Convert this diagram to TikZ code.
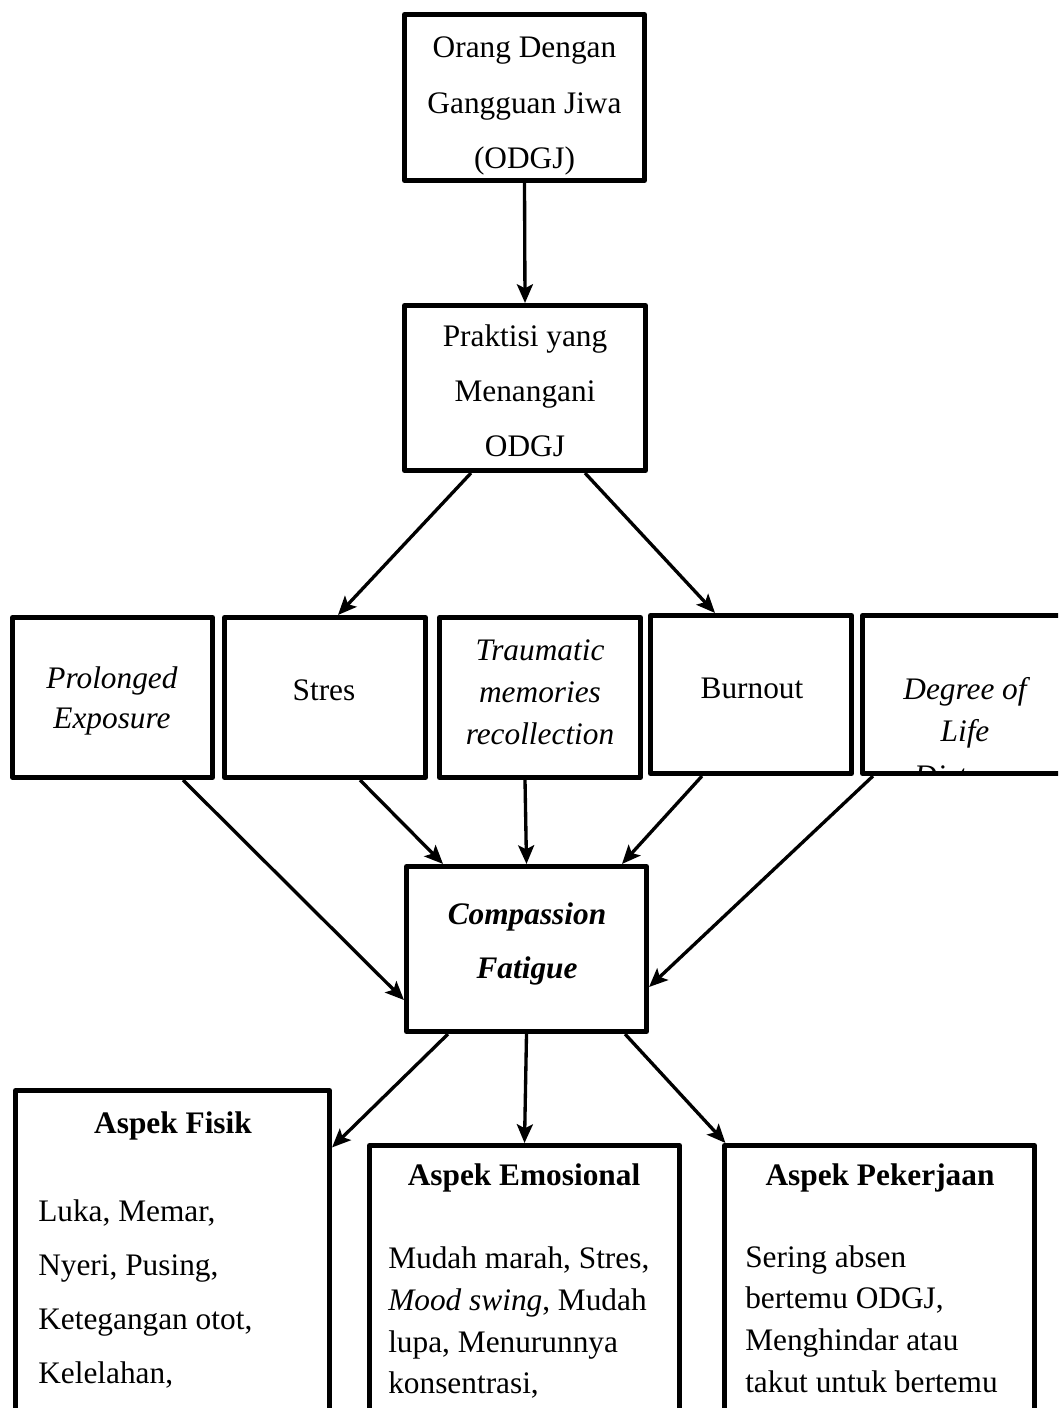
\documentclass[tikz,border=0pt]{standalone}
\usepackage{fontspec}
\setmainfont{Liberation Serif}
\usetikzlibrary{arrows.meta,calc}
\begin{document}
\begin{tikzpicture}[x=0.75pt,y=-0.75pt,
  box/.style={draw, line width=3.8pt, rectangle, line join=round, inner sep=0pt},
  arr/.style={line width=2.5pt, -{Stealth[length=14pt,width=12pt,inset=3pt]}},
  txt/.style={anchor=base, inner sep=0pt, font=\fontsize{23.5}{28}\selectfont},
  ltxt/.style={anchor=base west, inner sep=0pt, font=\fontsize{23.5}{28}\selectfont}]
\useasboundingbox (0,0) rectangle (1058,1408);
\clip (0,0) rectangle (1058,1408);

% boxes
\node[box, minimum width=180pt, minimum height=124.5pt] (odgj) at (524.5,97.5) {};
\node[box, minimum width=180.75pt, minimum height=123.75pt] (prak) at (525,388) {};
\node[box, minimum width=150pt, minimum height=120pt] (b1) at (112.5,697.5) {};
\node[box, minimum width=150.75pt, minimum height=120pt] (b2) at (325,697.5) {};
\node[box, minimum width=150.75pt, minimum height=120pt] (b3) at (540,697.5) {};
\node[box, minimum width=150.75pt, minimum height=118.5pt] (b4) at (751,694.5) {};
\node[box, minimum width=157.5pt, minimum height=118.5pt] (b5) at (967.5,694.5) {};
\node[box, minimum width=180pt, minimum height=123.75pt] (cf) at (526.5,949) {};
\node[box, minimum width=235.5pt, minimum height=260.25pt] (fis) at (172.5,1264) {};
\node[box, minimum width=232.5pt, minimum height=219pt] (emo) at (524.5,1291.5) {};
\node[box, minimum width=232.5pt, minimum height=219pt] (pek) at (879.5,1291.5) {};

% texts
\node[txt] (t1a) at (524.5,58) {Orang Dengan};
\node[txt] (t1b) at (524.5,114) {Gangguan Jiwa};
\node[txt] (t1c) at (524.5,169) {(ODGJ)};

\node[txt] (t2a) at (525,347) {Praktisi yang};
\node[txt] (t2b) at (525,402) {Menangani};
\node[txt] (t2c) at (525,456) {ODGJ};

\node[txt] (t3a) at (112,688) {\itshape Prolonged};
\node[txt] (t3b) at (112,728) {\itshape Exposure};
\node[txt] (t4a) at (324,700) {Stres};
\node[txt] (t5a) at (540,660) {\itshape Traumatic};
\node[txt] (t5b) at (540,702) {\itshape memories};
\node[txt] (t5c) at (540,744) {\itshape recollection};
\node[txt] (t6a) at (752,698) {Burnout};
\begin{scope}
\clip (865,618) rectangle (1058,770);
\node[txt] (t7a) at (965,699) {\itshape Degree of};
\node[txt] (t7b) at (965,741) {\itshape Life};
\node[txt] (t7c) at (965,786) {\itshape Distress};
\end{scope}

\node[txt] (t8a) at (527,924) {\bfseries\itshape Compassion};
\node[txt] (t8b) at (527,978) {\bfseries\itshape Fatigue};

\node[txt] (f0) at (173,1133) {\bfseries Aspek Fisik};
\node[ltxt] (f1) at (38,1221) {Luka, Memar,};
\node[ltxt] (f2) at (38,1275) {Nyeri, Pusing,};
\node[ltxt] (f3) at (38,1329) {Ketegangan otot,};
\node[ltxt] (f4) at (38,1383) {Kelelahan,};

\node[txt] (e0) at (524,1185) {\bfseries Aspek Emosional};
\node[ltxt] (e1) at (388,1268) {Mudah marah, Stres,};
\node[ltxt] (e2) at (388,1310) {\textit{Mood swing}, Mudah};
\node[ltxt] (e3) at (388,1352) {lupa, Menurunnya};
\node[ltxt] (e4) at (388,1393) {konsentrasi,};

\node[txt] (p0) at (880,1185) {\bfseries Aspek Pekerjaan};
\node[ltxt] (p1) at (745,1267) {Sering absen};
\node[ltxt] (p2) at (745,1308) {bertemu ODGJ,};
\node[ltxt] (p3) at (745,1350) {Menghindar atau};
\node[ltxt] (p4) at (745,1392) {takut untuk bertemu};

% connectors
\draw[arr] (odgj.south) -- (prak.north);
\draw[arr] ([xshift=-40.5pt]prak.south) -- ([xshift=9.75pt]b2.north);
\draw[arr] ([xshift=45pt]prak.south) -- ([xshift=-27pt]b4.north);
\draw[arr] ([xshift=52.9pt]b1.south) -- ([yshift=-38.25pt]cf.west);
\draw[arr] ([xshift=26.25pt]b2.south) -- ([xshift=-62.6pt]cf.north);
\draw[arr] ([xshift=-11.25pt]b3.south) -- (cf.north);
\draw[arr] ([xshift=-36.75pt]b4.south) -- ([xshift=71.6pt]cf.north);
\draw[arr] ([xshift=-70.9pt]b5.south) -- ([yshift=-28.5pt]cf.east);
\draw[arr] ([xshift=-58.9pt]cf.south) -- ([yshift=-44.6pt]fis.north east);
\draw[arr] (cf.south) -- (emo.north);
\draw[arr] ([xshift=73.9pt]cf.south) -- ([xshift=2.6pt]pek.north west);
\end{tikzpicture}
\end{document}
